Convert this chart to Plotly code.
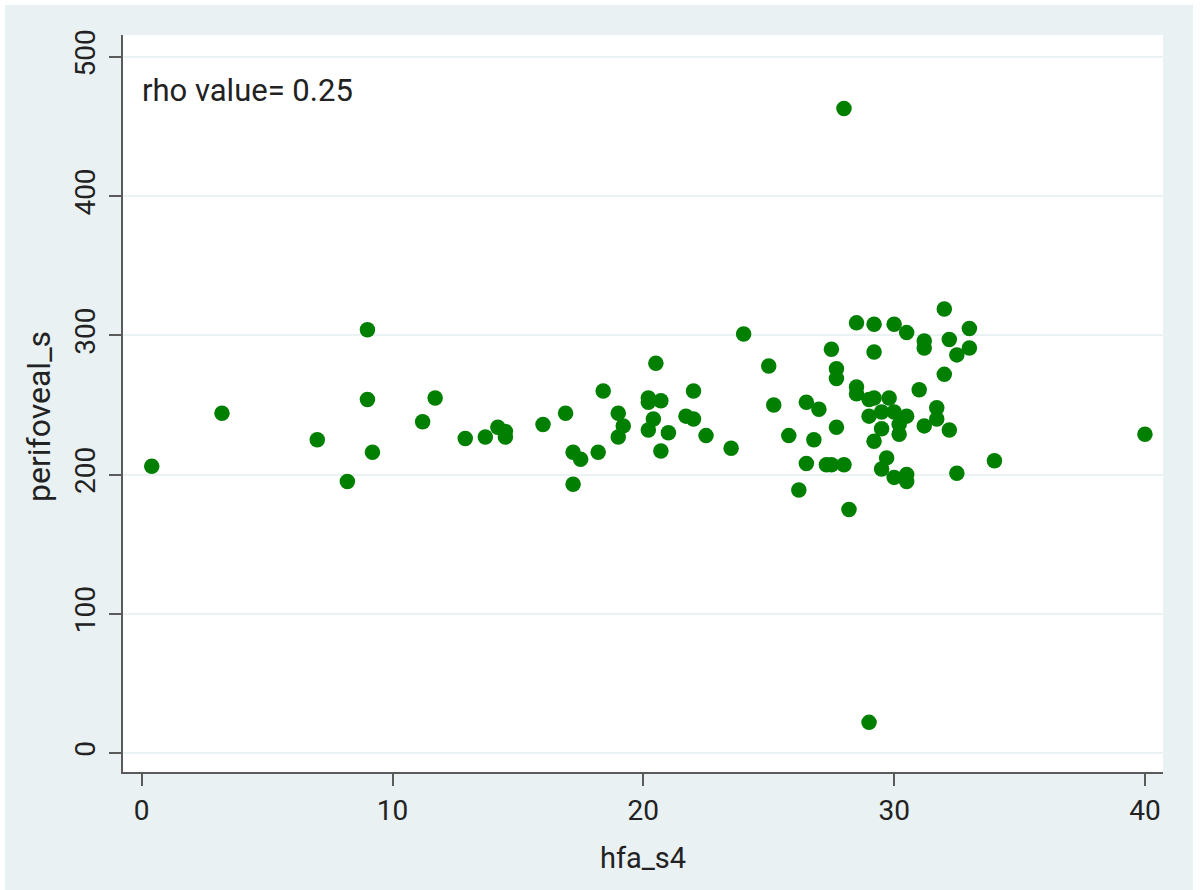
import plotly.graph_objects as go

# hfa_s4 vs perifoveal_s observations
hfa_s4 = [
    0.4, 3.2, 7.0, 8.2, 9.0, 9.0, 9.2, 11.2, 11.7, 12.9,
    13.7, 14.2, 14.5, 14.5, 16.0, 16.9, 17.2, 17.2, 17.5, 18.2,
    18.4, 19.0, 19.0, 19.2, 20.5, 20.2, 20.2, 20.7, 20.4, 20.2,
    21.0, 20.7, 22.0, 21.7, 22.0, 22.5, 23.5, 24.0, 25.0, 25.2,
    25.8, 26.5, 27.0, 26.8, 26.5, 26.2, 27.5, 27.7, 27.7, 27.7,
    27.3, 27.5, 28.0, 28.2, 28.5, 28.5, 28.5, 29.2, 29.2, 29.0,
    29.2, 29.8, 29.0, 29.5, 30.0, 30.5, 29.5, 29.2, 30.2, 30.2,
    29.7, 29.5, 30.0, 30.5, 30.5, 30.0, 30.5, 31.2, 31.2, 32.0,
    32.2, 33.0, 33.0, 32.5, 32.0, 31.0, 31.7, 31.7, 31.2, 32.2,
    32.5, 34.0, 40.0, 28.0, 29.0,
]
perifoveal_s = [
    206, 244, 225, 195, 304, 254, 216, 238, 255, 226,
    227, 234, 231, 227, 236, 244, 193, 216, 211, 216,
    260, 244, 227, 235, 280, 255, 252, 253, 240, 232,
    230, 217, 260, 242, 240, 228, 219, 301, 278, 250,
    228, 252, 247, 225, 208, 189, 290, 276, 269, 234,
    207, 207, 207, 175, 309, 263, 258, 308, 288, 254,
    255, 255, 242, 245, 245, 242, 233, 224, 236, 229,
    212, 204, 198, 200, 195, 308, 302, 296, 291, 319,
    297, 305, 291, 286, 272, 261, 248, 240, 235, 232,
    201, 210, 229, 463, 22,
]

x_ticks = [0, 10, 20, 30, 40]
y_ticks = [0, 100, 200, 300, 400, 500]
rho_label = "rho value= 0.25"
x_title = "hfa_s4"
y_title = "perifoveal_s"

BG = "#E9F1F3"
AXIS = "#5A5A5A"
TEXT = "#222222"
FONT = "Roboto"

# plot-area geometry in pixels
L, T, W, H = 123, 35, 1040, 737

fig = go.Figure()
fig.add_trace(go.Scatter(
    x=hfa_s4, y=perifoveal_s, mode="markers",
    marker=dict(color="#007F00", size=15.5, line=dict(width=0)),
    showlegend=False, hoverinfo="x+y",
))

fig.add_annotation(
    x=0, xref="x", xanchor="left", xshift=-2,
    y=476, yref="y", yanchor="middle",
    text=rho_label, showarrow=False,
    font=dict(family=FONT, size=31, color=TEXT),
)

# vertical axis title
fig.add_annotation(
    x=(39 - L) / W, xref="paper", xanchor="center",
    y=(T + H - 417) / H, yref="paper", yanchor="middle",
    text=y_title, textangle=-90, showarrow=False,
    font=dict(family=FONT, size=32, color=TEXT),
)

# thin white frame around the graph region (left, top, right)
for x0, y0, x1, y1 in [(0, 0, 5, 890), (0, 0, 1200, 5), (1193, 0, 1200, 890)]:
    fig.add_shape(
        type="rect", xref="paper", yref="paper",
        x0=(x0 - L) / W, x1=(x1 - L) / W,
        y0=(T + H - y1) / H, y1=(T + H - y0) / H,
        fillcolor="white", line=dict(width=0), layer="above",
    )

fig.update_layout(
    width=1200, height=890,
    margin=dict(l=L, r=1200 - L - W, t=T, b=890 - T - H),
    paper_bgcolor=BG, plot_bgcolor="white",
    font=dict(family=FONT, size=28, color=TEXT),
    xaxis=dict(
        range=[-0.746, 40.72], tickvals=x_ticks,
        showgrid=False, zeroline=False,
        showline=True, linecolor=AXIS, linewidth=2,
        ticks="outside", ticklen=12, tickwidth=2, tickcolor=AXIS,
        tickfont=dict(family=FONT, size=28, color=TEXT),
        title=dict(text=x_title, font=dict(family=FONT, size=29, color=TEXT), standoff=22),
    ),
    yaxis=dict(
        range=[-13.65, 515.8], tickvals=y_ticks,
        showgrid=True, gridcolor="#EAF2F3", gridwidth=2,
        zeroline=False,
        showline=True, linecolor=AXIS, linewidth=2,
        ticks="outside", ticklen=12, tickwidth=2, tickcolor=AXIS,
        tickangle=-90, ticklabelstandoff=3,
        tickfont=dict(family=FONT, size=28, color=TEXT),
    ),
)

fig.write_html("out.html")
